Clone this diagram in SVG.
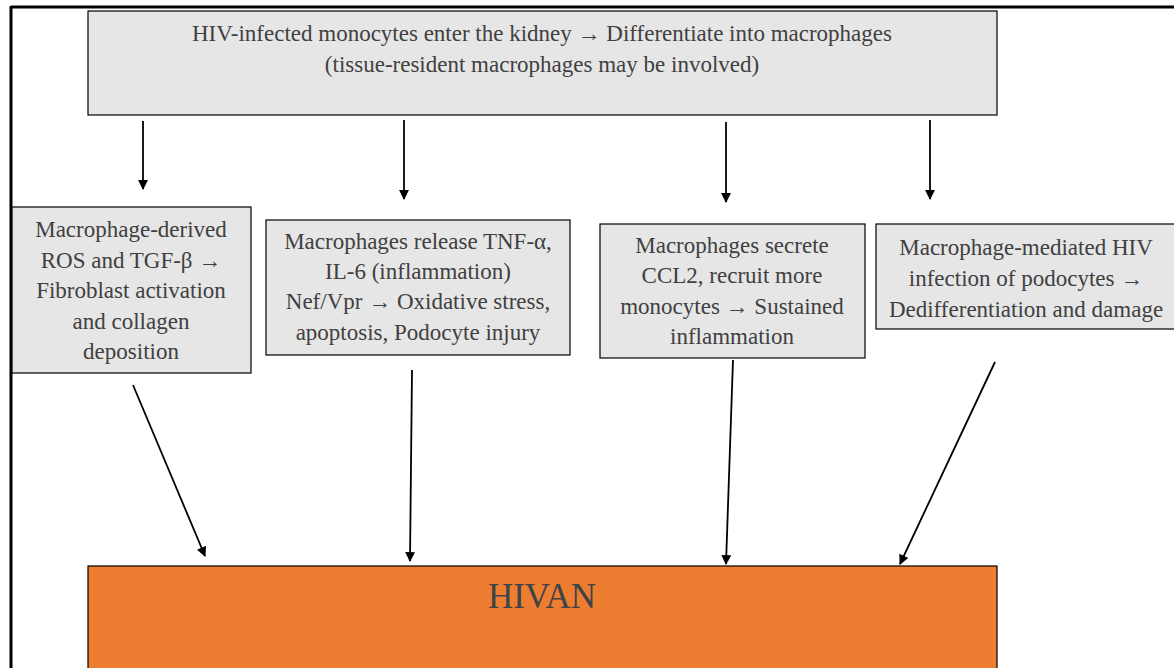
<svg xmlns="http://www.w3.org/2000/svg" width="1174" height="668" viewBox="0 0 1174 668">
<defs>
<style>
.box{fill:#e6e6e6;stroke:#000;stroke-width:1.2}
.t{font-family:"Liberation Serif","Times New Roman",serif;font-size:23px;fill:#404040;text-anchor:middle}
.c{stroke:#000;stroke-width:1.8;fill:none;marker-end:url(#ah)}
</style>
<marker id="ah" viewBox="0 0 10 10" refX="9" refY="5" markerWidth="6.5" markerHeight="5.5" orient="auto" markerUnits="strokeWidth">
<path d="M0,0 L10,5 L0,10 z" fill="#000"/>
</marker>
</defs>
<rect width="1174" height="668" fill="#fff"/>
<g id="frame">
<line x1="11" y1="7" x2="1174" y2="7" stroke="#000" stroke-width="3"/>
<line x1="11" y1="6" x2="11" y2="668" stroke="#000" stroke-width="3"/>
</g>
<g id="top">
<rect class="box" x="88" y="11" width="909" height="104"/>
<text class="t" x="542" y="41">HIV-infected monocytes enter the kidney → Differentiate into macrophages</text>
<text class="t" x="542" y="72">(tissue-resident macrophages may be involved)</text>
</g>
<g id="n1">
<rect class="box" x="12" y="207" width="239" height="166"/>
<text class="t" x="131" y="237">Macrophage-derived</text>
<text class="t" x="131" y="268">ROS and TGF-β →</text>
<text class="t" x="131" y="298">Fibroblast activation</text>
<text class="t" x="131" y="329">and collagen</text>
<text class="t" x="131" y="359">deposition</text>
</g>
<g id="n2">
<rect class="box" x="266" y="220" width="304" height="135"/>
<text class="t" x="418" y="249">Macrophages release TNF-α,</text>
<text class="t" x="418" y="279">IL-6 (inflammation)</text>
<text class="t" x="418" y="309">Nef/Vpr → Oxidative stress,</text>
<text class="t" x="418" y="340">apoptosis, Podocyte injury</text>
</g>
<g id="n3">
<rect class="box" x="600" y="224" width="265" height="134"/>
<text class="t" x="732" y="253">Macrophages secrete</text>
<text class="t" x="732" y="283">CCL2, recruit more</text>
<text class="t" x="732" y="314">monocytes → Sustained</text>
<text class="t" x="732" y="344">inflammation</text>
</g>
<g id="n4">
<rect class="box" x="876" y="224" width="300" height="105"/>
<text class="t" x="1026" y="255">Macrophage-mediated HIV</text>
<text class="t" x="1026" y="286">infection of podocytes →</text>
<text class="t" x="1026" y="317">Dedifferentiation and damage</text>
</g>
<g id="hivan">
<rect x="88" y="566" width="909" height="110" fill="#ed7d31" stroke="#000" stroke-width="1.2"/>
<text x="542" y="608" font-family="Liberation Serif, Times New Roman, serif" font-size="35" fill="#3f4448" text-anchor="middle">HIVAN</text>
</g>
<g id="connectors">
<line class="c" x1="143" y1="121" x2="143" y2="189"/>
<line class="c" x1="404" y1="120" x2="404" y2="199"/>
<line class="c" x1="726" y1="122" x2="726" y2="202"/>
<line class="c" x1="930" y1="120" x2="930" y2="199"/>
<line class="c" x1="133" y1="385" x2="205" y2="556"/>
<line class="c" x1="412" y1="370" x2="410" y2="561"/>
<line class="c" x1="733" y1="360" x2="726" y2="564"/>
<line class="c" x1="995" y1="362" x2="900" y2="564"/>
</g>
</svg>
